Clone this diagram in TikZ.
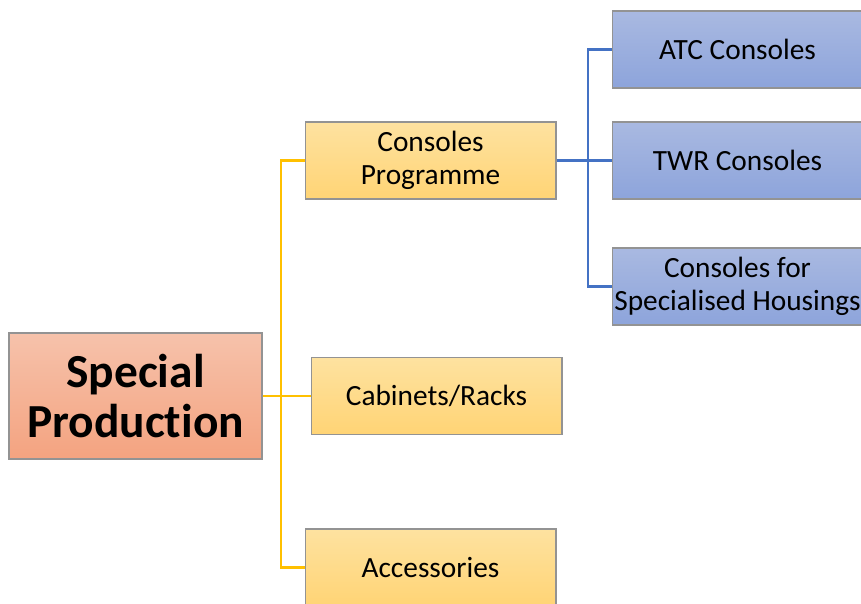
\documentclass[tikz,border=0pt]{standalone}
\usepackage{fontspec}
\setmainfont{Carlito}[Ligatures=NoCommon]
\begin{document}
\begin{tikzpicture}[x=0.02cm,y=-0.02cm,
		box/.style={draw=gray!85, line width=0.6pt, align=center, font=\fontsize{16.7}{19}\selectfont,
			minimum width=5.02cm, minimum height=1.54cm, inner sep=0pt},
		rootbox/.style={box, top color=rootTop, bottom color=rootBot, minimum width=5.06cm, minimum height=2.52cm,
			font=\fontsize{27}{28.5}\selectfont\bfseries},
		midbox/.style={box, top color=midTop, bottom color=midBot},
		leafbox/.style={box, top color=leafTop, bottom color=leafBot},
		yline/.style={draw=lineYel, line width=1.2pt},
		bline/.style={draw=lineBlu, line width=1.2pt}]
	\definecolor{rootTop}{HTML}{F6C2AB}
	\definecolor{rootBot}{HTML}{F4A380}
	\definecolor{midTop}{HTML}{FEE2A0}
	\definecolor{midBot}{HTML}{FFD475}
	\definecolor{leafTop}{HTML}{A9B9E1}
	\definecolor{leafBot}{HTML}{8DA4DB}
	\definecolor{lineYel}{HTML}{FFC000}
	\definecolor{lineBlu}{HTML}{4472C4}
	\useasboundingbox (0,0) rectangle (861,603);
	% Boxes
	\node[rootbox] (special) at (135.5,396) {Special\\Production};
	\node[midbox] (prog) at (430.5,160.5) {Consoles\\Programme};
	\node[midbox] (racks) at (436.5,396) {Cabinets/Racks};
	\node[midbox] (acc) at (430.5,567.5) {Accessories};
	\node[leafbox] (atc) at (737.5,49.5) {ATC Consoles};
	\node[leafbox] (twr) at (737.5,160.5) {TWR Consoles};
	\node[leafbox] (housing) at (737.5,286.5) {Consoles for\\Specialised Housings};
	% Connectors
	\coordinate (yj) at (281,396);
	\coordinate (bj) at (588,160.5);
	\draw[yline] (special.east) -- (yj);
	\foreach \n in {prog, racks, acc}
		\draw[yline] (yj) |- (\n.west);
	\draw[bline] (prog.east) -- (bj);
	\foreach \n in {atc, twr, housing}
		\draw[bline] (bj) |- (\n.west);
\end{tikzpicture}
\end{document}
